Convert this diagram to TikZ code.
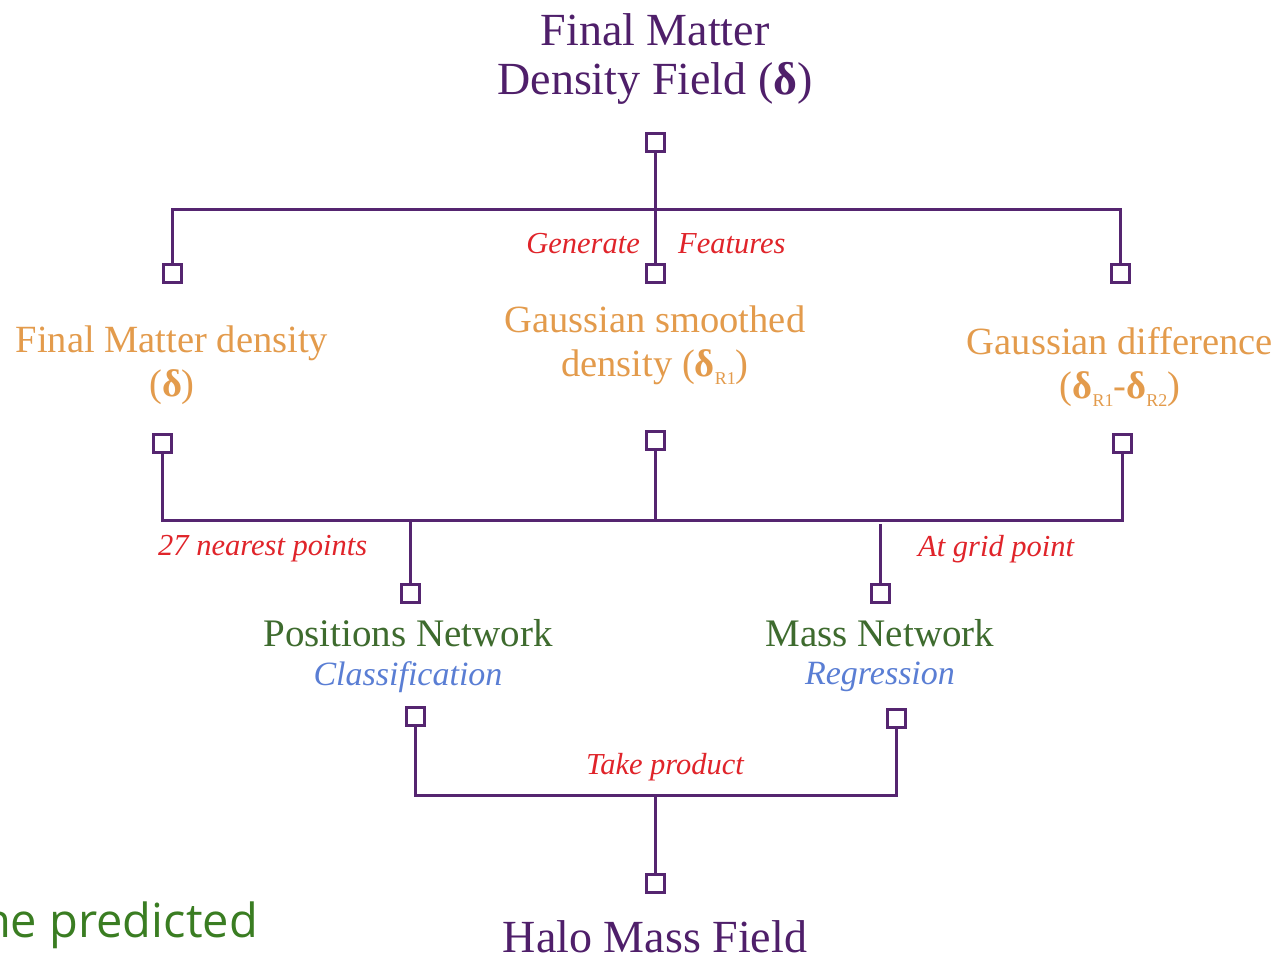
\documentclass[tikz,border=0pt]{standalone}
\usepackage{fontspec}
\setmainfont{Liberation Serif}
\newfontfamily\osans{Open Sans}
\newcommand\dlt{{\bfseries δ}}
\newcommand\sbs[1]{\raisebox{-0.45ex}{\fontsize{18}{18}\selectfont #1}}
\definecolor{titlec}{HTML}{4F1F6A}
\definecolor{linec}{HTML}{552570}
\definecolor{orangec}{HTML}{E39B4C}
\definecolor{redc}{HTML}{E0242A}
\definecolor{greenc}{HTML}{3E6B2E}
\definecolor{bluec}{HTML}{5A7ED4}
\definecolor{osgreen}{HTML}{3A7D22}
\begin{document}
\begin{tikzpicture}[x=1pt,y=-1pt,
  sq/.style={draw=linec, line width=3pt, minimum size=18pt, inner sep=0pt, fill=white},
  conn/.style={draw=linec, line width=3pt},
  ttl/.style={text=titlec, font=\fontsize{46}{50}\selectfont, align=center, inner sep=0pt},
  feat/.style={text=orangec, font=\fontsize{38.5}{44}\selectfont, align=center, inner sep=0pt},
  note/.style={text=redc, font=\itshape\fontsize{30.5}{32}\selectfont, inner sep=0pt},
  net/.style={text=greenc, font=\fontsize{39}{44}\selectfont, align=center, inner sep=0pt},
  task/.style={text=bluec, font=\itshape\fontsize{34}{44}\selectfont, inner sep=0pt}]
\useasboundingbox (0,0) rectangle (1277,962);
\fill[white] (0,0) rectangle (1277,962);
% coordinates
\coordinate (j0) at (655,209);
\coordinate (j1) at (655,520);
\coordinate (j1m) at (880,524);
\coordinate (j2) at (655,795);
% squares
\node[sq] (s0) at (655,142) {};
\node[sq] (s1a) at (172,273) {};
\node[sq] (s1b) at (655,273) {};
\node[sq] (s1c) at (1120,273) {};
\node[sq] (s2a) at (162,443) {};
\node[sq] (s2b) at (655,440) {};
\node[sq] (s2c) at (1122,443) {};
\node[sq] (s3a) at (410,593) {};
\node[sq] (s3b) at (880,593) {};
\node[sq] (s4a) at (415,716) {};
\node[sq] (s4b) at (896,718) {};
\node[sq] (s5) at (655,883) {};
% connectors
\draw[conn] (s0.south) -- (s1b.north);
\draw[conn] (s1a.north) -- (s1a.north |- j0) -- (s1c.north |- j0) -- (s1c.north);
\draw[conn] (s2a.south) -- (s2a.south |- j1) -- (s2c.south |- j1) -- (s2c.south);
\draw[conn] (s2b.south) -- (j1);
\draw[conn] (s3a.north |- j1) -- (s3a.north);
\draw[conn] (j1m) -- (s3b.north);
\draw[conn] (s4a.south) -- (s4a.south |- j2) -- (s4b.south |- j2) -- (s4b.south);
\draw[conn] (j2) -- (s5.north);
% texts
\node[ttl] (title) at (655,59) {Final Matter\\Density Field (\dlt)};
\node[note, anchor=east] (gen) at (640,244) {Generate};
\node[note, anchor=west] (fea) at (678,244) {Features};
\node[feat] (fa) at (172,365) {Final Matter density\\(\dlt)};
\node[feat] (fb) at (655,345) {Gaussian smoothed\\density (\dlt\sbs{R1})};
\node[feat] (fc) at (1120,367) {Gaussian difference\\(\dlt\sbs{R1}-\dlt\sbs{R2})};
\node[note, anchor=west] (n27) at (158,549) {27 nearest points};
\node[note, anchor=west] (ngp) at (918,549) {At grid point};
\node[net] (pn) at (408,633) {Positions Network};
\node[task] (pc) at (408,677) {Classification};
\node[net] (mn) at (880,633) {Mass Network};
\node[task] (mr) at (880,677) {Regression};
\node[note] (tp) at (665,767) {Take product};
\node[ttl] (halo) at (655,937) {Halo Mass Field};
\node[text=osgreen, font=\osans\fontsize{47}{60}\selectfont, anchor=east, inner sep=0pt] (pred) at (258,925) {the predicted};
\end{tikzpicture}
\end{document}
